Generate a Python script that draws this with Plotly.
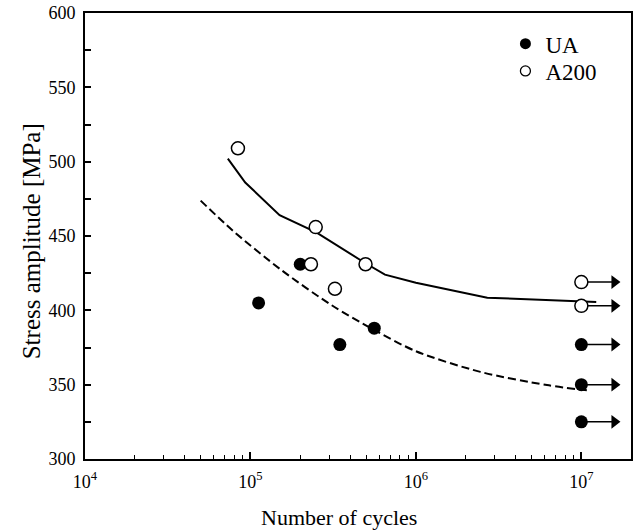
import plotly.graph_objects as go

# ---- data ----
ua_cycles = [1.12e5, 2.0e5, 3.47e5, 5.6e5, 1e7, 1e7, 1e7]
ua_stress = [405, 431, 377, 388, 377, 350, 325]
ua_runout = [False, False, False, False, True, True, True]

a200_cycles = [8.4e4, 2.48e5, 2.32e5, 3.24e5, 4.96e5, 1e7, 1e7]
a200_stress = [509, 456, 431, 414.5, 431, 419, 403]
a200_runout = [False, False, False, False, False, True, True]

fit_a200_cycles = [7.3e4, 9.3e4, 1.5e5, 2.5e5, 4.9e5, 6.5e5, 1e6, 2.7e6, 1.23e7]
fit_a200_stress = [502, 486, 464, 452.5, 432, 424, 418.5, 408.5, 405.6]

fit_ua_cycles = [5.0e4, 7.8e4, 1.55e5, 3.1e5, 5.4e5, 1e6, 2.45e6, 6.2e6, 1.12e7]
fit_ua_stress = [473.8, 453.7, 426.8, 403.4, 387.7, 372.5, 358.6, 349.7, 346.0]

x_tickvals = [1e4, 1e5, 1e6, 1e7]
x_ticktext = ["10<sup>4</sup>", "10<sup>5</sup>", "10<sup>6</sup>", "10<sup>7</sup>"]
y_tickvals = [300, 350, 400, 450, 500, 550, 600]

x_title = "Number of cycles"
y_title = "Stress amplitude [MPa]"

FONT = "Liberation Serif"

fig = go.Figure()

fig.add_trace(go.Scatter(x=fit_a200_cycles, y=fit_a200_stress, mode="lines",
                         line=dict(color="black", width=2), showlegend=False,
                         hoverinfo="skip"))
fig.add_trace(go.Scatter(x=fit_ua_cycles, y=fit_ua_stress, mode="lines",
                         line=dict(color="black", width=2, dash="8px,4px",
                                   shape="spline", smoothing=0.8),
                         showlegend=False, hoverinfo="skip"))

# run-out arrows (shaft + head), built from the data points
arrow_decades = 0.2
shaft_x, shaft_y, head_x, head_y = [], [], [], []
for cyc, s, r in list(zip(ua_cycles, ua_stress, ua_runout)) + list(zip(a200_cycles, a200_stress, a200_runout)):
    if r:
        tip = cyc * 10 ** arrow_decades
        shaft_x += [cyc, tip, None]
        shaft_y += [s, s, None]
        head_x.append(tip)
        head_y.append(s)
fig.add_trace(go.Scatter(x=shaft_x, y=shaft_y, mode="lines",
                         line=dict(color="black", width=1.5), showlegend=False,
                         hoverinfo="skip"))
fig.add_trace(go.Scatter(x=head_x, y=head_y, mode="markers",
                         marker=dict(symbol="triangle-right", size=12, color="black",
                                     line=dict(width=0)),
                         showlegend=False, hoverinfo="skip"))

fig.add_trace(go.Scatter(x=ua_cycles, y=ua_stress, mode="markers",
                         marker=dict(symbol="circle", size=13, color="black"),
                         showlegend=False))
fig.add_trace(go.Scatter(x=a200_cycles, y=a200_stress, mode="markers",
                         marker=dict(symbol="circle", size=13, color="white",
                                     line=dict(width=1.5, color="black")),
                         showlegend=False))

# legend-only traces (one legend each so the rows can be placed like the original)
fig.add_trace(go.Scatter(x=[None], y=[None], mode="markers", name="UA", legend="legend",
                         marker=dict(symbol="circle", size=11, color="black")))
fig.add_trace(go.Scatter(x=[None], y=[None], mode="markers", name="A200", legend="legend2",
                         marker=dict(symbol="circle-open", size=10, color="black",
                                     line=dict(width=1.3))))

leg_common = dict(xanchor="left", yanchor="middle", font=dict(family=FONT, size=23),
                  bgcolor="rgba(0,0,0,0)", itemwidth=30)

fig.update_layout(
    width=636, height=532,
    margin=dict(l=85, r=3, t=12, b=73),
    paper_bgcolor="white", plot_bgcolor="white",
    font=dict(family=FONT, color="black", size=18),
    legend=dict(x=0.77, y=0.931, **leg_common),
    legend2=dict(x=0.77, y=0.870, **leg_common),
    annotations=[
        dict(text=x_title, xref="paper", yref="paper", x=0.465, y=-0.132,
             xanchor="center", yanchor="middle", showarrow=False,
             font=dict(family=FONT, size=22)),
        dict(text=y_title, xref="paper", yref="paper", x=-0.099, y=0.488,
             xanchor="center", yanchor="middle", showarrow=False, textangle=-90,
             font=dict(family=FONT, size=25)),
    ],
)

fig.update_xaxes(type="log", range=[4, 7.3], showgrid=False, zeroline=False,
                 showline=True, linecolor="black", linewidth=2, mirror=True,
                 ticks="inside", ticklen=7, tickwidth=1.5, tickcolor="black",
                 tickvals=x_tickvals, ticktext=x_ticktext, ticklabelstandoff=5,
                 tickfont=dict(family=FONT, size=18),
                 minor=dict(ticks="inside", ticklen=4, tickwidth=1.2, tickcolor="black",
                            dtick="D1", showgrid=False))
fig.update_yaxes(range=[300, 600], showgrid=False, zeroline=False,
                 showline=True, linecolor="black", linewidth=2, mirror=True,
                 ticks="inside", ticklen=6, tickwidth=1.5, tickcolor="black",
                 tickvals=y_tickvals, ticklabelstandoff=4,
                 tickfont=dict(family=FONT, size=18),
                 minor=dict(ticks="inside", ticklen=6, tickwidth=1.5, tickcolor="black",
                            dtick=25, showgrid=False))

fig.write_html("out.html", config={"displayModeBar": False},
               post_script="document.body.style.margin='0px';")
